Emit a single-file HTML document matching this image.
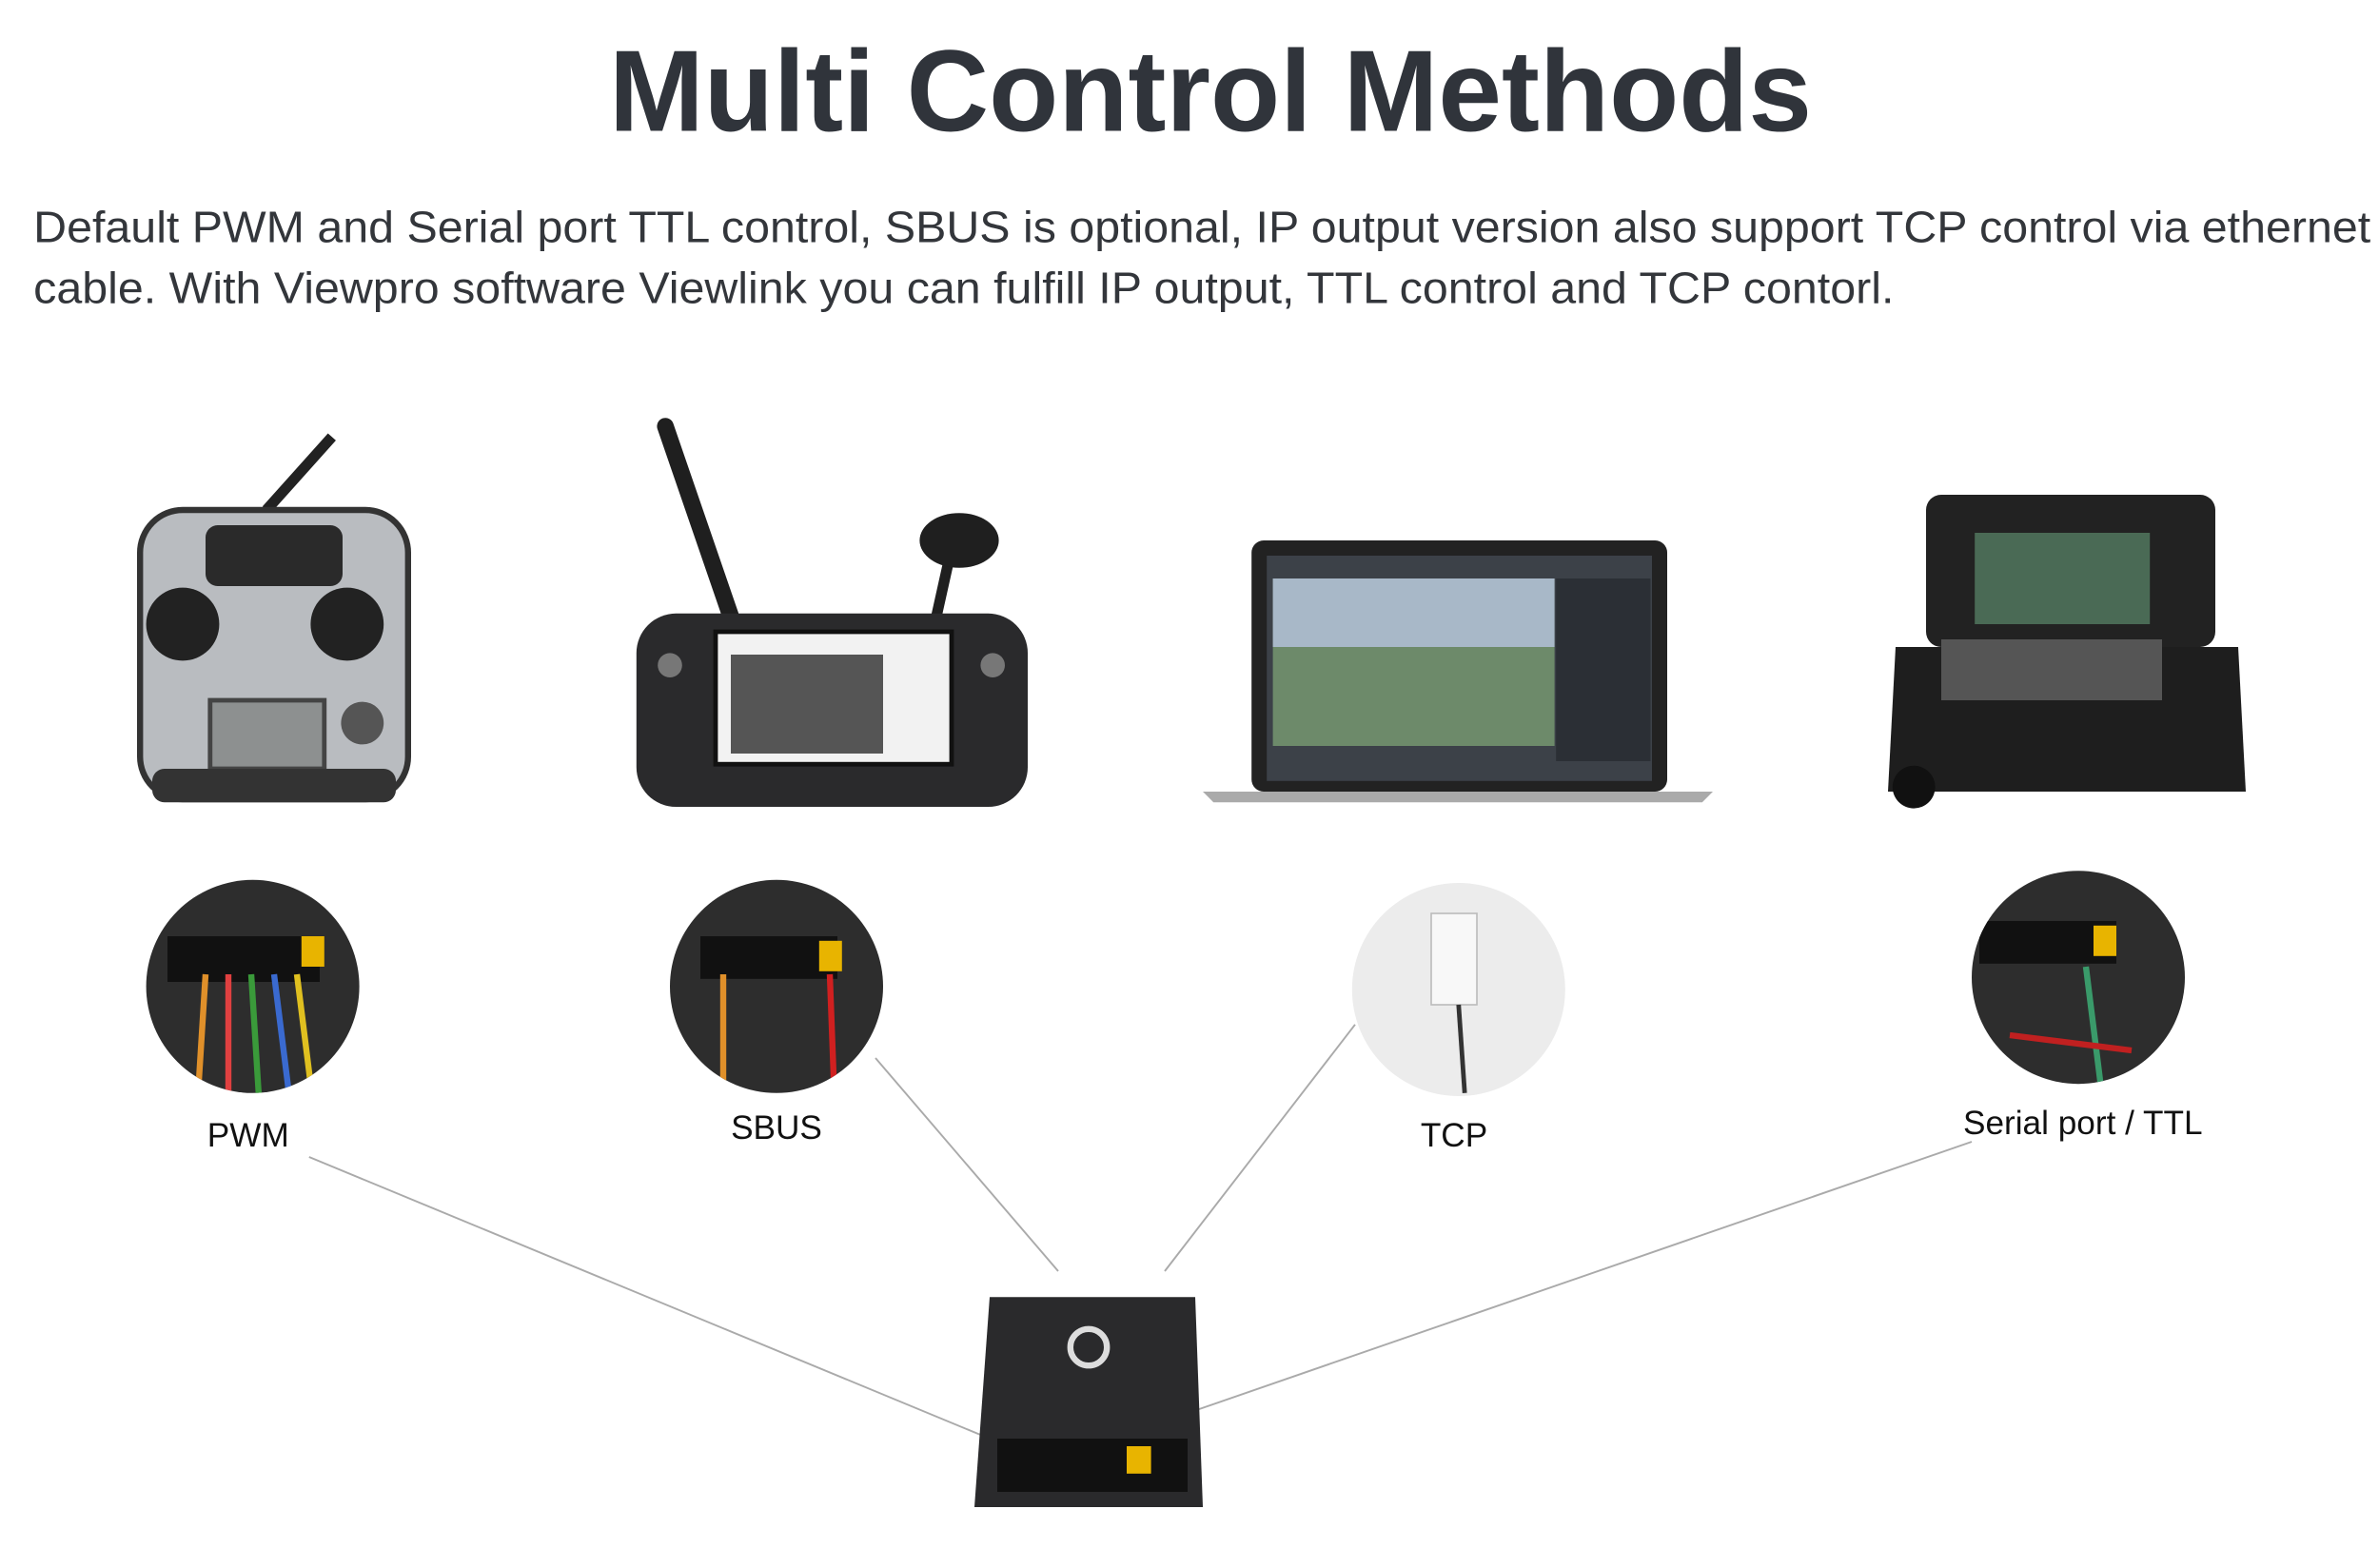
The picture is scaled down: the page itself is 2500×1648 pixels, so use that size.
<!DOCTYPE html>
<html><head><meta charset="utf-8"><style>
html,body{margin:0;padding:0;background:#fff;}
svg{display:block;}
</style></head><body>
<svg width="2500" height="1648" viewBox="0 0 1562.5 1030" xmlns="http://www.w3.org/2000/svg" font-family="Liberation Sans, sans-serif">
<text x="795" y="86" text-anchor="middle" font-size="76" font-weight="bold" fill="#30343b" textLength="790" lengthAdjust="spacingAndGlyphs">Multi Control Methods</text>
<text x="22" y="159" font-size="29" fill="#33363b" textLength="1535" lengthAdjust="spacingAndGlyphs">Default PWM and Serial port TTL control, SBUS is optional, IP output version also support TCP control via ethernet</text>
<text x="22" y="199" font-size="29" fill="#33363b" textLength="1222" lengthAdjust="spacingAndGlyphs">cable. With Viewpro software Viewlink you can fulfill IP output, TTL control and TCP contorl.</text>

<!-- connector lines -->
<g stroke="#aaa" stroke-width="1.2">
<line x1="203" y1="760" x2="650" y2="945"/>
<line x1="575" y1="695" x2="695" y2="835"/>
<line x1="890" y1="673" x2="765" y2="835"/>
<line x1="1295" y1="750" x2="775" y2="930"/>
</g>

<!-- RC transmitter -->
<line x1="175" y1="335" x2="218" y2="287" stroke="#222" stroke-width="7"/>
<rect x="92" y="335" width="176" height="190" rx="28" fill="#b9bcc0" stroke="#333" stroke-width="4"/>
<rect x="135" y="345" width="90" height="40" rx="8" fill="#2a2a2a"/>
<circle cx="120" cy="410" r="24" fill="#222"/><circle cx="228" cy="410" r="24" fill="#222"/>
<rect x="138" y="460" width="75" height="45" fill="#8d9090" stroke="#444" stroke-width="3"/>
<circle cx="238" cy="475" r="14" fill="#555"/>
<rect x="100" y="505" width="160" height="22" rx="8" fill="#333"/>

<!-- handheld controller -->
<line x1="437" y1="280" x2="480" y2="405" stroke="#1f1f1f" stroke-width="11" stroke-linecap="round"/>
<line x1="625" y1="360" x2="615" y2="405" stroke="#1f1f1f" stroke-width="7"/>
<ellipse cx="630" cy="355" rx="26" ry="18" fill="#1f1f1f"/>
<rect x="418" y="403" width="257" height="127" rx="26" fill="#2a2a2c"/>
<rect x="470" y="415" width="155" height="87" fill="#f2f2f2" stroke="#111" stroke-width="3"/>
<rect x="480" y="430" width="100" height="65" fill="#555"/>
<circle cx="440" cy="437" r="8" fill="#777"/><circle cx="652" cy="437" r="8" fill="#777"/>

<!-- laptop -->
<rect x="822" y="355" width="273" height="165" rx="8" fill="#222"/>
<rect x="832" y="365" width="253" height="148" fill="#3c4148"/>
<rect x="836" y="380" width="185" height="110" fill="#6d8a6a"/>
<rect x="836" y="380" width="185" height="45" fill="#a8b8c8"/>
<rect x="1022" y="380" width="62" height="120" fill="#2b2f35"/>
<path d="M790 520 L1125 520 L1118 527 L797 527 Z" fill="#aaa"/>

<!-- case -->
<rect x="1265" y="325" width="190" height="100" rx="10" fill="#222"/>
<rect x="1297" y="350" width="115" height="60" fill="#4a6a55"/>
<path d="M1245 425 L1470 425 L1475 520 L1240 520 Z" fill="#1e1e1e"/>
<rect x="1275" y="420" width="145" height="40" fill="#555"/>
<circle cx="1257" cy="517" r="14" fill="#111"/>

<!-- circles -->
<defs>
<clipPath id="c1"><circle cx="166" cy="648" r="70"/></clipPath>
<clipPath id="c2"><circle cx="510" cy="648" r="70"/></clipPath>
<clipPath id="c4"><circle cx="1365" cy="642" r="70"/></clipPath>
</defs>
<circle cx="166" cy="648" r="70" fill="#2d2d2d"/>
<g clip-path="url(#c1)">
<rect x="110" y="615" width="100" height="30" fill="#111"/>
<g stroke-width="4"><line x1="135" y1="640" x2="130" y2="720" stroke="#e0902a"/><line x1="150" y1="640" x2="150" y2="720" stroke="#e04040"/><line x1="165" y1="640" x2="170" y2="720" stroke="#3a9a3a"/><line x1="180" y1="640" x2="190" y2="720" stroke="#3a6ad0"/><line x1="195" y1="640" x2="205" y2="720" stroke="#e0c020"/></g>
<rect x="198" y="615" width="15" height="20" fill="#e8b400"/>
</g>
<circle cx="510" cy="648" r="70" fill="#2d2d2d"/>
<g clip-path="url(#c2)">
<rect x="460" y="615" width="90" height="28" fill="#111"/>
<rect x="538" y="618" width="15" height="20" fill="#e8b400"/>
<line x1="475" y1="640" x2="475" y2="720" stroke="#e0902a" stroke-width="4"/>
<line x1="545" y1="640" x2="548" y2="720" stroke="#d02020" stroke-width="4"/>
</g>
<circle cx="958" cy="650" r="70" fill="#ececec"/>
<rect x="940" y="600" width="30" height="60" fill="#f8f8f8" stroke="#bbb"/>
<line x1="958" y1="660" x2="962" y2="718" stroke="#333" stroke-width="3"/>
<circle cx="1365" cy="642" r="70" fill="#2d2d2d"/>
<g clip-path="url(#c4)">
<rect x="1300" y="605" width="90" height="28" fill="#111"/>
<rect x="1375" y="608" width="15" height="20" fill="#e8b400"/>
<line x1="1370" y1="635" x2="1380" y2="715" stroke="#3a9a6a" stroke-width="4"/>
<line x1="1320" y1="680" x2="1400" y2="690" stroke="#c02020" stroke-width="4"/>
</g>

<g font-size="22" fill="#111" text-anchor="middle">
<text x="163" y="753">PWM</text>
<text x="510" y="748">SBUS</text>
<text x="955" y="753">TCP</text>
<text x="1368" y="745">Serial port / TTL</text>
</g>

<!-- module box -->
<path d="M650 852 L785 852 L790 990 L640 990 Z" fill="#2a2a2c"/>
<rect x="655" y="945" width="125" height="35" fill="#111"/>
<rect x="740" y="950" width="16" height="18" fill="#e8b400"/>
<circle cx="715" cy="885" r="12" fill="none" stroke="#ddd" stroke-width="4"/>
</svg>
</body></html>
